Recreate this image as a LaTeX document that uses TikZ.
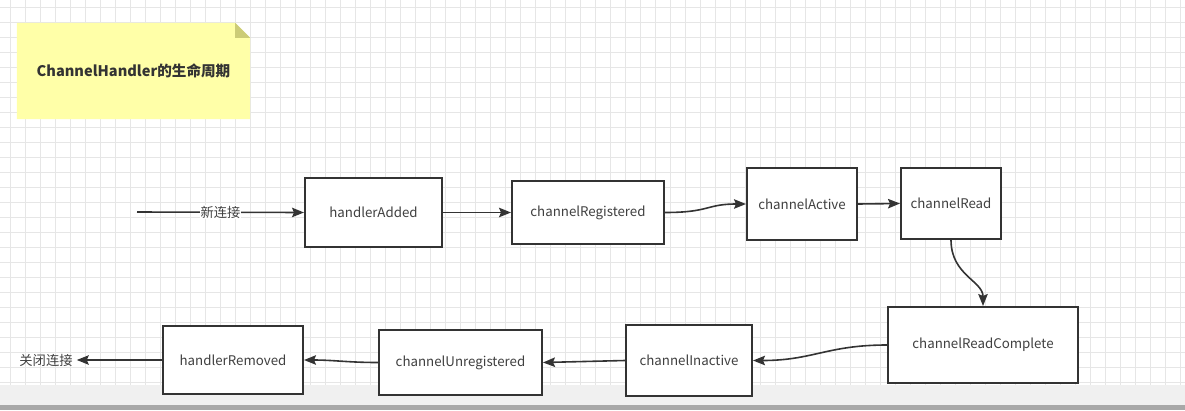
\documentclass[tikz,border=0pt]{standalone}
\usepackage{fontspec}
\setmainfont{Noto Sans CJK SC}
\usepackage{xcolor}
\usepackage{tikz}
\usetikzlibrary{arrows.meta, backgrounds, calc}
\definecolor{linegray}{HTML}{333333}
\definecolor{textgray}{HTML}{404040}
\definecolor{gridgray}{HTML}{E6E6E6}
\definecolor{noteyellow}{HTML}{FFFFA8}
\definecolor{notefold}{HTML}{CCCC77}
\definecolor{barlight}{HTML}{F0F0F0}
\definecolor{bardark}{HTML}{A8A8A8}
\tikzstyle{statebox} = [rectangle, draw=linegray, fill=white, line width=2pt,
  text=textgray, font=\fontsize{13.3}{15}\selectfont, inner sep=0pt]
\tikzstyle{notebox} = [rectangle, minimum width=233pt, minimum height=96pt,
  text=linegray, font=\fontsize{14.6}{18}\selectfont\bfseries]
\tikzstyle{edgelabel} = [font=\fontsize{13.3}{15}\selectfont, text=textgray, fill=white, inner sep=1pt]
\tikzstyle{arrow} = [line width=1.6pt, draw=linegray, -{Stealth[length=12pt,width=9.5pt,inset=2pt]}]

\begin{document}
\begin{tikzpicture}[x=1pt, y=-1pt]
  \useasboundingbox (0,0) rectangle (1185,410);

  \node (title) [notebox] at (133.5,71) {ChannelHandler的生命周期};

  \node (hadded)    [statebox, minimum width=137pt, minimum height=69pt] at (373.5,212.5) {handlerAdded};
  \node (creg)      [statebox, minimum width=152pt, minimum height=63pt] at (588,212.5)   {channelRegistered};
  \node (cactive)   [statebox, minimum width=110pt, minimum height=72pt] at (802,204)     {channelActive};
  \node (cread)     [statebox, minimum width=100pt, minimum height=71pt] at (951,203.5)   {channelRead};
  \node (crc)       [statebox, minimum width=190pt, minimum height=76pt] at (983,345)     {channelReadComplete};
  \node (cinactive) [statebox, minimum width=126pt, minimum height=71pt] at (689,360.5)   {channelInactive};
  \node (cunreg)    [statebox, minimum width=163pt, minimum height=65pt] at (460.5,362.5) {channelUnregistered};
  \node (hremoved)  [statebox, minimum width=140pt, minimum height=68pt] at (233,360)     {handlerRemoved};

  \coordinate (newin) at (137,212);
  \node (closelbl) [edgelabel, fill=none, inner xsep=4pt] at (46,360) {关闭连接};

  \draw[arrow] (newin) -- node[edgelabel] {新连接} (hadded.west);
  \draw[arrow] (hadded.east) -- (creg.west);
  \draw[arrow] (creg.east) .. controls +(45,0) and +(-40,0) .. (cactive.west);
  \draw[arrow] (cactive.east) -- (cread.west);
  \draw[arrow] (cread.south) .. controls +(0,35) and +(0,-25) .. (crc.north);
  \draw[arrow] (crc.west) .. controls +(-60,0) and +(60,0) .. (cinactive.east);
  \draw[arrow] (cinactive.west) -- (cunreg.east);
  \draw[arrow] (cunreg.west) .. controls +(-30,0) and +(30,0) .. (hremoved.east);
  \draw[arrow] (hremoved.west) -- (closelbl.east);

  \begin{scope}[on background layer]
    \foreach \gx in {10,25,...,1180}
      \draw[gridgray, line width=1pt] (\gx,0) -- (\gx,385);
    \foreach \gy in {7,22,...,385}
      \draw[gridgray, line width=1pt] (0,\gy) -- (1185,\gy);
    \fill[barlight] (0,385) rectangle (1185,405);
    \fill[bardark] (0,405) rectangle (1185,410);
    \fill[noteyellow] (title.south west) -- (title.north west)
      -- ($(title.north east)+(-15,0)$) -- ($(title.north east)+(0,15)$)
      -- (title.south east) -- cycle;
    \fill[notefold] ($(title.north east)+(-15,0)$) -- ($(title.north east)+(-15,15)$)
      -- ($(title.north east)+(0,15)$) -- cycle;
  \end{scope}
\end{tikzpicture}
\end{document}
